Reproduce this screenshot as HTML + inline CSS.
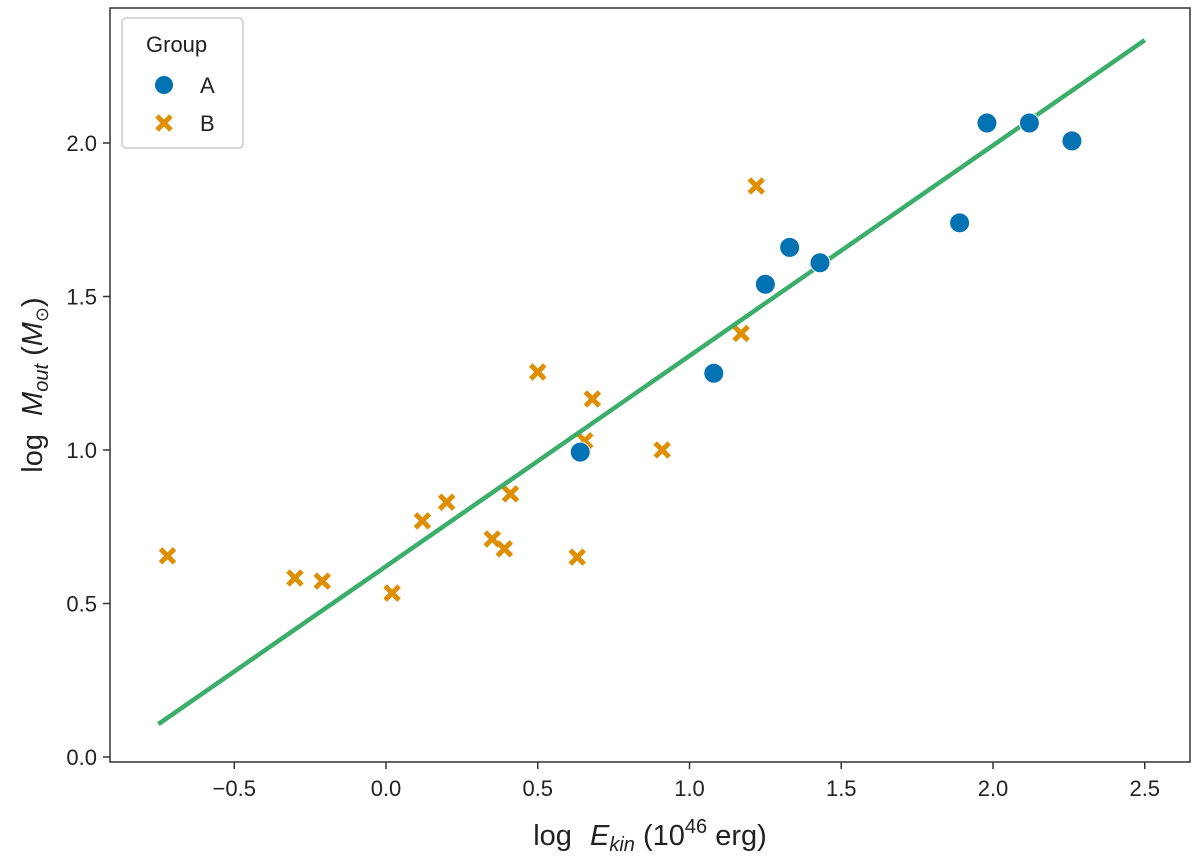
<!DOCTYPE html>
<html><head><meta charset="utf-8"><style>
body{margin:0;background:#fff;}
svg text{font-family:"Liberation Sans",sans-serif;fill:#222;}
</style></head><body>
<svg id="chart" width="1200" height="862" viewBox="0 0 1200 862" xmlns="http://www.w3.org/2000/svg">
<rect x="110" y="8" width="1080" height="754" fill="#fff" stroke="#333" stroke-width="1.5"/>
<g id="xticks"></g>
<g id="yticks"></g>
<g id="marks"></g>
<text x="650" y="845" font-size="29" text-anchor="middle">log <tspan font-style="italic" dx="10">E</tspan><tspan font-style="italic" font-size="20" dy="6">kin</tspan><tspan dy="-6"> (10</tspan><tspan font-size="20" dy="-12">46</tspan><tspan dy="12"> erg)</tspan></text>
<text transform="translate(42,385) rotate(-90)" font-size="29" text-anchor="middle">log <tspan font-style="italic" dx="10">M</tspan><tspan font-style="italic" font-size="20" dy="6">out</tspan><tspan dy="-6"> (</tspan><tspan font-style="italic">M</tspan><tspan font-size="18" dy="6">⊙</tspan><tspan dy="-6">)</tspan></text>
<g>
<rect x="122" y="18" width="121" height="130" fill="#fff" stroke="#ccc" stroke-width="1.5" rx="4"/>
<text x="146" y="52" font-size="22">Group</text>
<circle cx="164" cy="85" r="9" fill="#0172b2"/>
<text x="200" y="93" font-size="22">A</text>
<g transform="translate(164,123)" stroke="#de8f05" stroke-width="5"><line x1="-7" y1="-7" x2="7" y2="7"/><line x1="-7" y1="7" x2="7" y2="-7"/></g>
<text x="200" y="131" font-size="22">B</text>
</g>
</svg>
<script>
const xTicks=[-0.5,0.0,0.5,1.0,1.5,2.0,2.5];
const yTicks=[0.0,0.5,1.0,1.5,2.0];
const groupAX=[0.64,1.08,1.25,1.33,1.43,1.89,1.98,2.12,2.26];
const groupAY=[0.993,1.25,1.54,1.66,1.61,1.74,2.065,2.065,2.007];
const groupBX=[-0.72,-0.30,-0.21,0.02,0.12,0.20,0.35,0.39,0.41,0.50,0.63,0.655,0.68,0.91,1.17,1.22];
const groupBY=[0.655,0.583,0.573,0.534,0.769,0.83,0.71,0.678,0.857,1.254,0.651,1.03,1.166,1.0,1.38,1.86];
const fitX=[-0.75,2.5];
const fitY=[0.107,2.335];
const sx=v=>386+v*303.5, sy=v=>757-v*307;
const NS='http://www.w3.org/2000/svg';
function mk(t,a,p){const e=document.createElementNS(NS,t);for(const k in a)e.setAttribute(k,a[k]);p.appendChild(e);return e;}
const xg=document.getElementById('xticks'),yg=document.getElementById('yticks'),mg=document.getElementById('marks');
xTicks.forEach(v=>{const x=sx(v);
const l=mk('line',{x1:x,x2:x,y1:762,y2:769,stroke:'#333','stroke-width':1.5},xg);


const t=mk('text',{x:x,y:796,'font-size':22,'text-anchor':'middle'},xg);t.textContent=(v<0?'\u2212':'')+Math.abs(v).toFixed(1);

});
yTicks.forEach(v=>{const y=sy(v);
const l=mk('line',{x1:103,x2:110,y1:y,y2:y,stroke:'#333','stroke-width':1.5},yg);


const t=mk('text',{x:97,y:y+8,'font-size':22,'text-anchor':'end'},yg);t.textContent=v.toFixed(1);

});
groupBX.forEach((v,i)=>{const g=mk('g',{transform:`translate(${sx(v)},${sy(groupBY[i])})`,stroke:'#de8f05','stroke-width':5},mg);


mk('line',{x1:-7,y1:-7,x2:7,y2:7},g);mk('line',{x1:-7,y1:7,x2:7,y2:-7},g);});
const fl=mk('line',{x1:sx(fitX[0]),y1:sy(fitY[0]),x2:sx(fitX[1]),y2:sy(fitY[1]),stroke:'#3aae6a','stroke-width':4.5},mg);


groupAX.forEach((v,i)=>{const c=mk('circle',{cx:sx(v),cy:sy(groupAY[i]),r:10,fill:'#0172b2',stroke:'#fff','stroke-width':1},mg);

});
</script>
</body></html>
